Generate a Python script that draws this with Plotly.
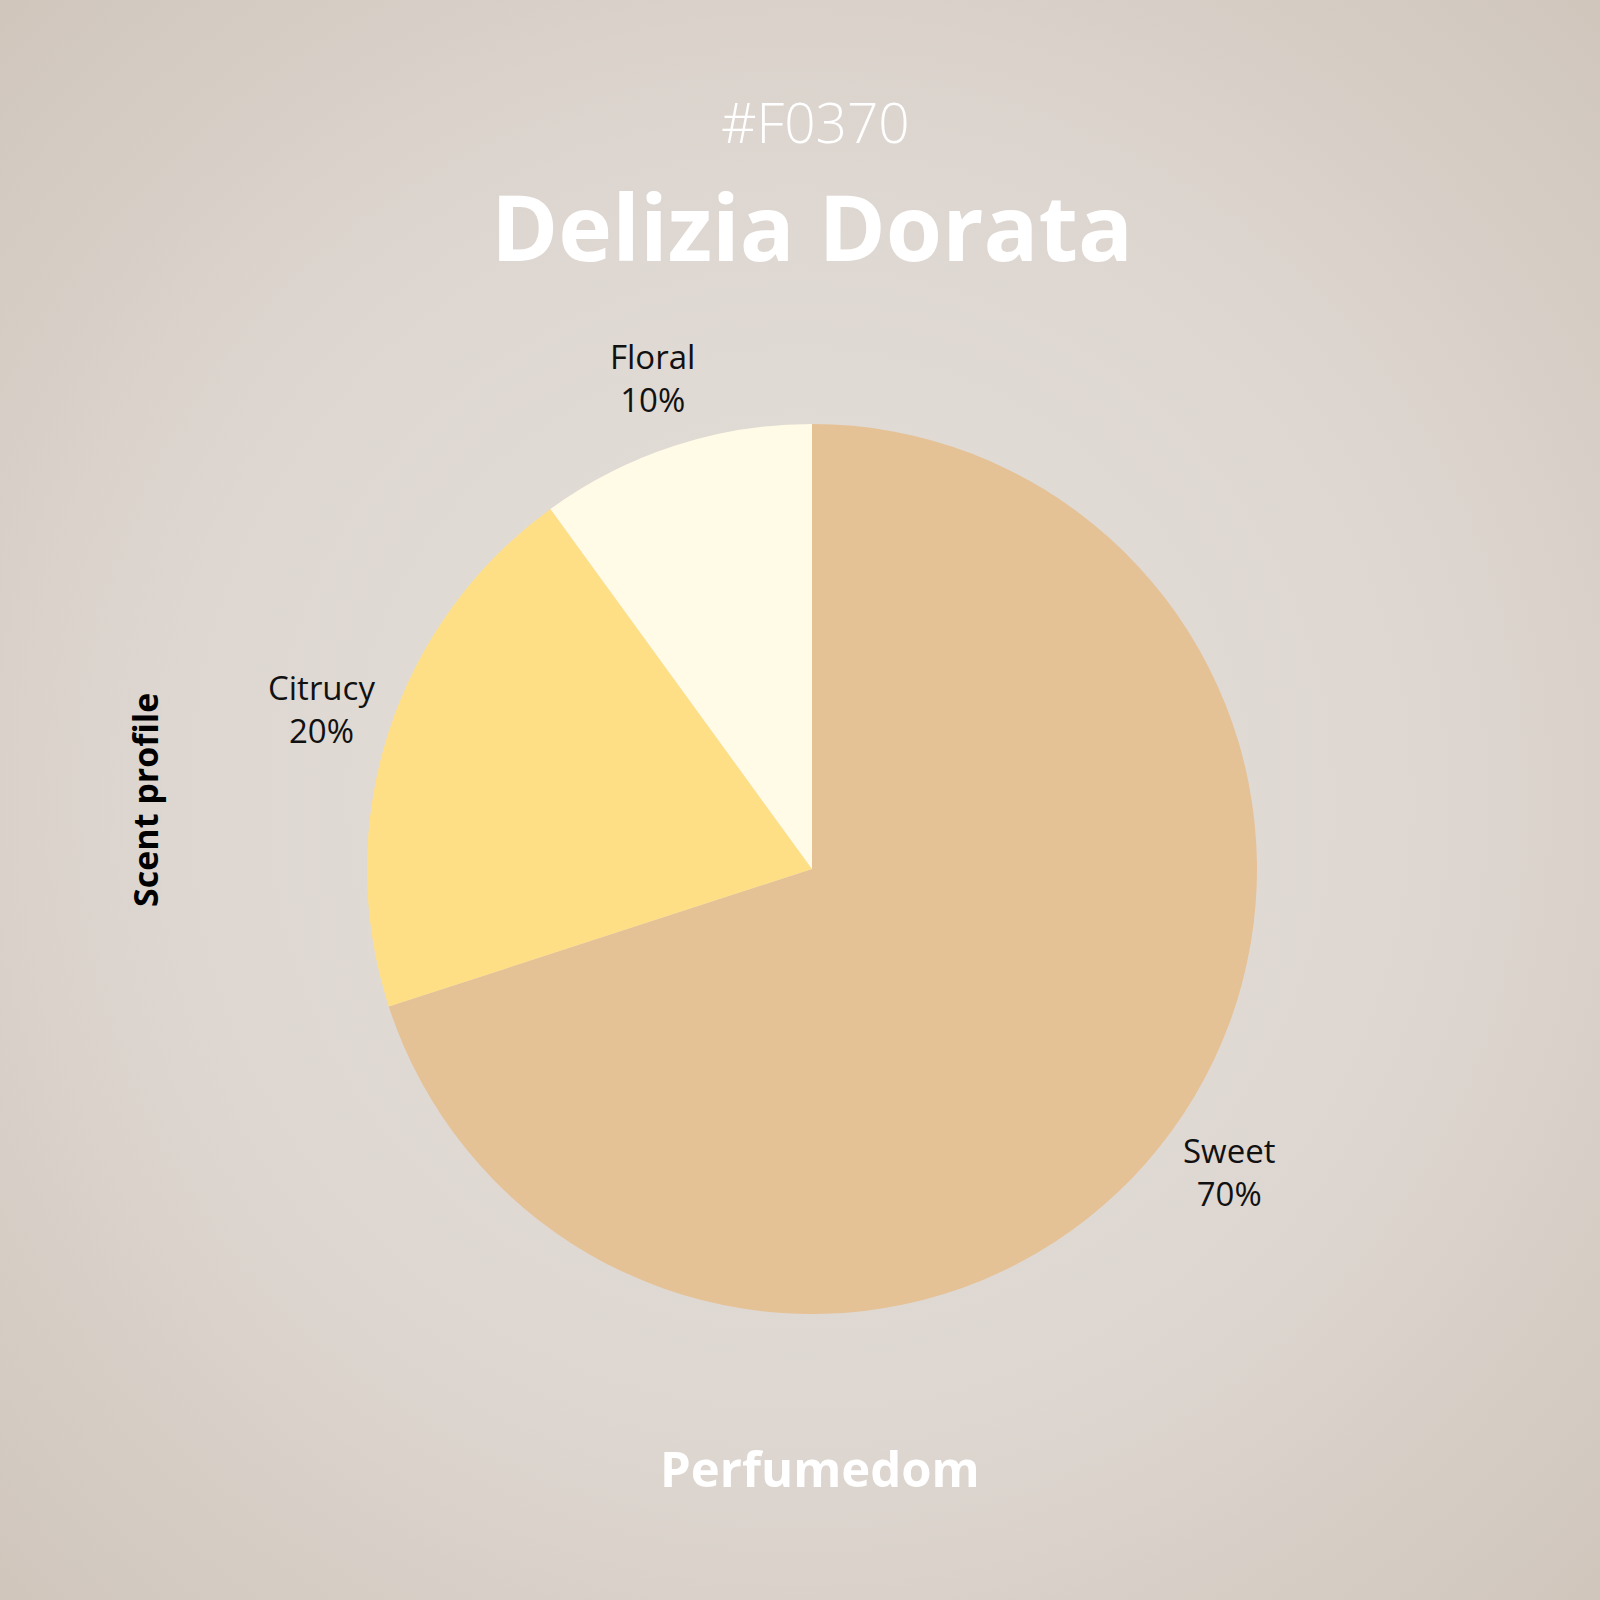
import math
import plotly.graph_objects as go

labels = ["Sweet", "Citrucy", "Floral"]
values = [70, 20, 10]
colors = ["#E5C196", "#FFDF85", "#FFFBE6"]

code_text = "#F0370"
title_text = "Delizia Dorata"
brand_text = "Perfumedom"
side_text = "Scent profile"

W = H = 1600
cx, cy, r = 812, 869, 445
label_dist = 1.16  # label centre distance as a multiple of radius

bg_svg = (
    "data:image/svg+xml;utf8,"
    "<svg xmlns='http://www.w3.org/2000/svg' width='1600' height='1600'>"
    "<defs><radialGradient id='g' cx='50%' cy='50%' r='72%'>"
    "<stop offset='0%' stop-color='%23e4dfda'/>"
    "<stop offset='55%' stop-color='%23ded7d1'/>"
    "<stop offset='100%' stop-color='%23cfc5bb'/>"
    "</radialGradient></defs>"
    "<rect width='1600' height='1600' fill='url(%23g)'/></svg>"
)

fig = go.Figure(
    go.Pie(
        labels=labels,
        values=values,
        marker=dict(colors=colors, line=dict(width=0)),
        sort=False,
        direction="clockwise",
        rotation=0,
        textinfo="none",
        hoverinfo="label+percent",
        showlegend=False,
        domain=dict(
            x=[(cx - r) / W, (cx + r) / W],
            y=[(H - cy - r) / H, (H - cy + r) / H],
        ),
    )
)

# slice labels, placed along each slice's mid-angle (computed from the values)
total = sum(values)
cum = 0
label_anns = []
for lab, v in zip(labels, values):
    mid = (cum + v / 2) / total * 2 * math.pi
    cum += v
    R = r * label_dist
    px = cx + R * math.sin(mid)
    py = cy - R * math.cos(mid)
    pct = round(v / total * 100)
    label_anns.append(
        dict(text=f"{lab}<br>{pct}%", x=px / W, y=1 - py / H, xref="paper", yref="paper",
             showarrow=False, xanchor="center", yanchor="middle", align="center",
             font=dict(family="Open Sans", size=33, color="#111111"))
    )

fig.update_layout(
    width=W,
    height=H,
    margin=dict(l=0, r=0, t=0, b=0),
    paper_bgcolor="#dcd5ce",
    plot_bgcolor="rgba(0,0,0,0)",
    images=[
        dict(
            source=bg_svg,
            xref="paper", yref="paper",
            x=0, y=1, sizex=1, sizey=1,
            xanchor="left", yanchor="top",
            sizing="stretch", layer="below",
        )
    ],
    annotations=label_anns + [
        dict(text=code_text, x=815 / W, y=1 - 121 / H, xref="paper", yref="paper",
             showarrow=False, xanchor="center", yanchor="middle",
             font=dict(family="Open Sans", size=55, color="#ffffff", weight=300)),
        dict(text="<b>" + title_text + "</b>", x=812 / W, y=1 - 226 / H, xref="paper", yref="paper",
             showarrow=False, xanchor="center", yanchor="middle",
             font=dict(family="Open Sans", size=91, color="#ffffff")),
        dict(text="<b>" + brand_text + "</b>", x=820 / W, y=1 - 1468 / H, xref="paper", yref="paper",
             showarrow=False, xanchor="center", yanchor="middle",
             font=dict(family="Open Sans", size=49, color="#ffffff")),
        dict(text="<b>" + side_text + "</b>", x=145 / W, y=1 - 800 / H, xref="paper", yref="paper",
             showarrow=False, xanchor="center", yanchor="middle", textangle=-90,
             font=dict(family="Open Sans", size=34, color="#000000")),
    ],
)

fig.write_html("out.html", config={"displayModeBar": False},
               post_script="document.body.style.margin='0';")
